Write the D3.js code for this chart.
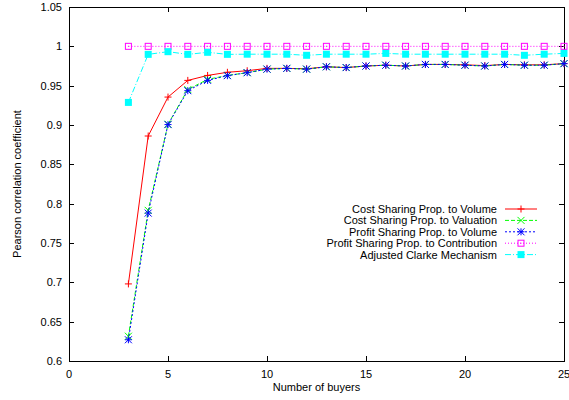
<!DOCTYPE html>
<html><head><meta charset="utf-8">
<script src="https://cdn.jsdelivr.net/npm/d3@7"></script>
<style>body{margin:0;background:#fff}svg{display:block}text{font-family:"Liberation Sans",Arial,sans-serif;font-size:11px;fill:#000}</style>
</head><body><svg id="c" width="569" height="400"></svg>
<script>
const buyers = [3,4,5,6,7,8,9,10,11,12,13,14,15,16,17,18,19,20,21,22,23,24,25];
const costVolume = [0.698,0.886,0.9355,0.9567,0.963,0.967,0.969,0.972,0.972,0.9715,0.974,0.973,0.975,0.976,0.975,0.977,0.977,0.9765,0.9755,0.977,0.9765,0.9765,0.978];
const costValuation = [0.6315,0.7915,0.901,0.945,0.958,0.963,0.9665,0.971,0.972,0.971,0.974,0.973,0.975,0.976,0.975,0.977,0.977,0.976,0.975,0.977,0.976,0.976,0.978];
const profitVolume = [0.627,0.788,0.9005,0.9436,0.9567,0.9627,0.9665,0.971,0.972,0.971,0.974,0.973,0.975,0.976,0.975,0.977,0.977,0.976,0.975,0.977,0.976,0.976,0.978];
const profitContribution = [1,1,1,1,1,1,1,1,1,1,1,1,1,1,1,1,1,1,1,1,1,1,1];
const clarke = [0.9287,0.9898,0.9932,0.9898,0.9924,0.9898,0.990,0.990,0.990,0.9886,0.990,0.990,0.990,0.991,0.990,0.990,0.990,0.990,0.990,0.990,0.9886,0.990,0.991];
const seriesNames = ["Cost Sharing Prop. to Volume","Cost Sharing Prop. to Valuation","Profit Sharing Prop. to Volume","Profit Sharing Prop. to Contribution","Adjusted Clarke Mechanism"];
const xTicks = [0,5,10,15,20,25];
const yTicks = [0.6,0.65,0.7,0.75,0.8,0.85,0.9,0.95,1,1.05];

const series = [
  {name:seriesNames[0], values:costVolume, color:"#ff0000", dash:null, marker:"plus"},
  {name:seriesNames[1], values:costValuation, color:"#00ff00", dash:"4,2", marker:"cross"},
  {name:seriesNames[2], values:profitVolume, color:"#0000ff", dash:"2,2", marker:"star"},
  {name:seriesNames[3], values:profitContribution, color:"#ff00ff", dash:"1,2", marker:"osquare"},
  {name:seriesNames[4], values:clarke, color:"#00ffff", dash:"6,2,1,2", marker:"fsquare"}
];

const L=69, R=564, T=7, B=361;
const x = d3.scaleLinear().domain([0,25]).range([L,R]);
const y = d3.scaleLinear().domain([0.6,1.05]).range([B,T]);
const svg = d3.select("#c");

// ticks (all four sides, inward)
const tl=5;
const g = svg.append("g").attr("stroke","#000").attr("stroke-width",1);
xTicks.forEach(t=>{
  const px=Math.round(x(t))+0.5;
  g.append("line").attr("x1",px).attr("x2",px).attr("y1",B).attr("y2",B-tl);
  g.append("line").attr("x1",px).attr("x2",px).attr("y1",T).attr("y2",T+tl);
});
yTicks.forEach(t=>{
  const py=Math.round(y(t))+0.5;
  g.append("line").attr("x1",L).attr("x2",L+tl).attr("y1",py).attr("y2",py);
  g.append("line").attr("x1",R).attr("x2",R-tl).attr("y1",py).attr("y2",py);
});
svg.append("rect").attr("x",L+0.5).attr("y",T+0.5).attr("width",R-L).attr("height",B-T)
  .attr("fill","none").attr("stroke","#000").attr("stroke-width",1);

xTicks.forEach(t=>{
  svg.append("text").attr("x",x(t)).attr("y",B+17).attr("text-anchor","middle").text(d3.format("d")(t));
});
yTicks.forEach(t=>{
  svg.append("text").attr("x",L-7).attr("y",y(t)+4).attr("text-anchor","end").text(String(+t.toFixed(2)));
});
svg.append("text").attr("x",(L+R)/2).attr("y",391).attr("text-anchor","middle").text("Number of buyers");
svg.append("text").attr("transform",`translate(21,${(T+B)/2}) rotate(-90)`).attr("text-anchor","middle").text("Pearson correlation coefficient");

function marker(sel, type, cx, cy, color){
  const s=3.5;
  const gg=sel.append("g").attr("stroke",color).attr("stroke-width",1).attr("fill","none");
  if(type==="plus"||type==="star"){
    gg.append("line").attr("x1",cx-s).attr("x2",cx+s).attr("y1",cy).attr("y2",cy);
    gg.append("line").attr("x1",cx).attr("x2",cx).attr("y1",cy-s).attr("y2",cy+s);
  }
  if(type==="cross"||type==="star"){
    gg.append("line").attr("x1",cx-s).attr("x2",cx+s).attr("y1",cy-s).attr("y2",cy+s);
    gg.append("line").attr("x1",cx-s).attr("x2",cx+s).attr("y1",cy+s).attr("y2",cy-s);
  }
  if(type==="osquare"){
    gg.append("rect").attr("x",cx-3).attr("y",cy-3).attr("width",6).attr("height",6);
    gg.append("rect").attr("x",cx-0.5).attr("y",cy-0.5).attr("width",1).attr("height",1).attr("fill",color).attr("stroke","none");
  }
  if(type==="fsquare"){
    gg.append("rect").attr("x",cx-3.5).attr("y",cy-3.5).attr("width",7).attr("height",7).attr("fill",color).attr("stroke","none");
  }
}

const line = d3.line().x(d=>x(d[0])).y(d=>y(d[1]));
series.forEach(s=>{
  const pts = buyers.map((b,i)=>[b,s.values[i]]);
  svg.append("path").attr("d",line(pts)).attr("fill","none").attr("stroke",s.color)
    .attr("stroke-width",1).attr("stroke-dasharray",s.dash);
  pts.forEach(p=>marker(svg,s.marker,x(p[0]),y(p[1]),s.color));
});

// legend
const ly0=209, ldy=11.4;
series.forEach((s,i)=>{
  const yy=ly0+i*ldy;
  svg.append("text").attr("x",497).attr("y",yy+4).attr("text-anchor","end").text(s.name);
  svg.append("line").attr("x1",505).attr("x2",537).attr("y1",yy).attr("y2",yy)
    .attr("stroke",s.color).attr("stroke-width",1).attr("stroke-dasharray",s.dash);
  marker(svg,s.marker,521,yy,s.color);
});
</script></body></html>
